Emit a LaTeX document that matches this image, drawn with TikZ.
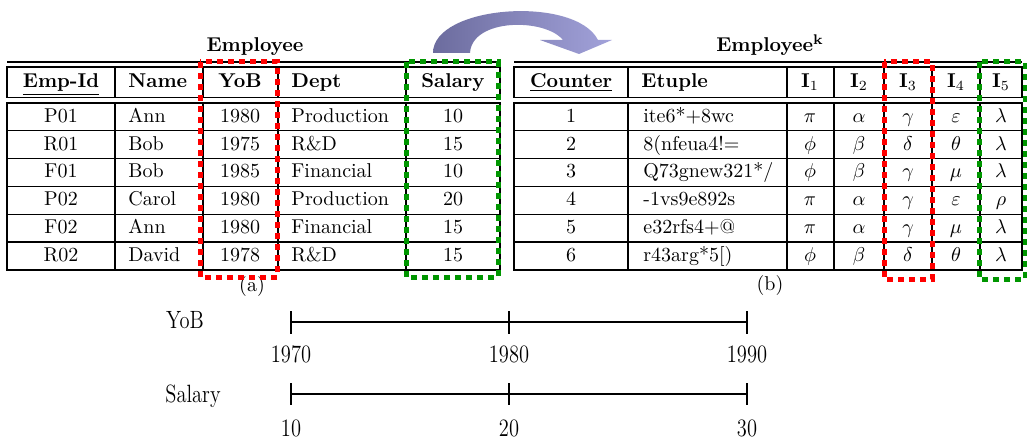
\documentclass[tikz,border=0pt]{standalone}
\usepackage{amsmath}
\usepackage{amssymb}
\usepackage{tikz}
\usetikzlibrary{positioning}
\definecolor{boxred}{RGB}{255,0,0}
\definecolor{boxgreen}{RGB}{0,150,0}
\definecolor{arrowdark}{RGB}{108,108,158}
\definecolor{arrowlight}{RGB}{162,162,218}
\tikzstyle{cell} = [text height=1.5ex, text depth=.25ex, inner sep=0pt]
\tikzstyle{cellw} = [cell, anchor=west]
\tikzstyle{head} = [cell, font=\bfseries]
\tikzstyle{headw} = [head, anchor=west]
\tikzstyle{rule} = [line width=0.6pt]
\tikzstyle{redbox} = [draw=boxred, line width=2.5pt, dash pattern=on 3pt off 2.5pt]
\tikzstyle{greenbox} = [draw=boxgreen, line width=2.5pt, dash pattern=on 3pt off 2.5pt]
\tikzstyle{axis} = [line width=0.8pt]
\tikzstyle{axislabel} = [font=\fontsize{12.5}{14}\selectfont, inner sep=0pt]
\newcommand{\cond}[1]{\scalebox{0.82}[1]{#1}}
\def\rh{27.8}

\begin{document}
\begin{tikzpicture}[x=0.5pt, y=-0.5pt]
\useasboundingbox (0,0) rectangle (1027,443);

%% table (a)
\node (titleA) [head] at (255,46) {Employee};
\draw [rule] (7,62) -- (500,62);
\draw [rule] (7,67) rectangle (500,97.5);
\draw [rule] (7,103) rectangle (500,270);
\foreach \x in {115,203,278,406} {
  \draw [rule] (\x,67) -- (\x,97.5);
  \draw [rule] (\x,103) -- (\x,270);
}
\foreach \k in {1,...,5} \draw [rule] (7,{103+\k*\rh}) -- (500,{103+\k*\rh});

\node (hId) [head] at (61,82) {\underline{Emp-Id}};
\node (hName) [headw] at (128,82) {Name};
\node (hYob) [head] at (240,82) {YoB};
\node (hDept) [headw] at (291,82) {Dept};
\node (hSal) [head] at (453,82) {Salary};

\foreach \i/\id/\nm/\yob/\dept/\sal in {1/P01/Ann/1980/Production/10,
    2/R01/Bob/1975/R\&D/15, 3/F01/Bob/1985/Financial/10,
    4/P02/Carol/1980/Production/20, 5/F02/Ann/1980/Financial/15,
    6/R02/David/1978/R\&D/15} {
  \node (id\i) [cell] at (61,{103+(\i-0.5)*\rh}) {\id};
  \node (nm\i) [cellw] at (128,{103+(\i-0.5)*\rh}) {\nm};
  \node (yob\i) [cell] at (240,{103+(\i-0.5)*\rh}) {\yob};
  \node (dept\i) [cellw] at (291,{103+(\i-0.5)*\rh}) {\dept};
  \node (sal\i) [cell] at (453,{103+(\i-0.5)*\rh}) {\sal};
}
\node (capA) at (252,287) {(a)};

%% table (b)
\node (titleB) [head] at (770,46) {Employee\textsuperscript{k}};
\draw [rule] (514,62) -- (1022,62);
\draw [rule] (514,67) rectangle (1022,97.5);
\draw [rule] (514,103) rectangle (1022,270);
\foreach \x in {628,787,834,884,932,980} {
  \draw [rule] (\x,67) -- (\x,97.5);
  \draw [rule] (\x,103) -- (\x,270);
}
\foreach \k in {1,...,5} \draw [rule] (514,{103+\k*\rh}) -- (1022,{103+\k*\rh});

\node (hCnt) [head] at (571,82) {\underline{Counter}};
\node (hEt) [headw] at (641,82) {Etuple};
\foreach \j/\x in {1/810,2/859,3/908,4/956,5/1001}
  \node (hI\j) [cell] at (\x,82) {$\mathbf{I}_{\j}$};

\foreach \i/\et/\a/\b/\c/\d/\e in {1/{ite6*+8wc}/\pi/\alpha/\gamma/\varepsilon/\lambda,
    2/{8(nfeua4!=}/\phi/\beta/\delta/\theta/\lambda,
    3/{Q73gnew321*/}/\phi/\beta/\gamma/\mu/\lambda,
    4/{-1vs9e892s}/\pi/\alpha/\gamma/\varepsilon/\rho,
    5/{e32rfs4+@}/\pi/\alpha/\gamma/\mu/\lambda,
    6/{r43arg*5[)}/\phi/\beta/\delta/\theta/\lambda} {
  \node (cnt\i) [cell] at (571,{103+(\i-0.5)*\rh}) {\i};
  \node (et\i) [cellw] at (643,{103+(\i-0.5)*\rh}) {\et};
  \node (ia\i) [cell] at (810,{103+(\i-0.5)*\rh}) {$\a$};
  \node (ib\i) [cell] at (859,{103+(\i-0.5)*\rh}) {$\b$};
  \node (ic\i) [cell] at (908,{103+(\i-0.5)*\rh}) {$\c$};
  \node (id\i) [cell] at (956,{103+(\i-0.5)*\rh}) {$\d$};
  \node (ie\i) [cell] at (1001,{103+(\i-0.5)*\rh}) {$\e$};
}
\node (capB) at (770,285) {(b)};

%% dotted frames
\draw [redbox] (200,62) rectangle (277,277);
\draw [greenbox] (406,62) rectangle (498,277);
\draw [redbox] (884,62) rectangle (932,279);
\draw [greenbox] (979,62) rectangle (1025,279);

%% curved arrow
\shade [left color=arrowdark, right color=arrowlight]
  (433,53) .. controls (433,5) and (575,-5) .. (598,40) -- (612,40) -- (579,54)
  -- (540,40) -- (563,40) .. controls (545,18) and (472,18) .. (470,53) -- cycle;

%% value scales
\node (lYob) [axislabel] at (185,320) {\cond{YoB}};
\coordinate (ya) at (291,322);
\coordinate (yb) at (747,322);
\draw [axis] (ya) -- (yb);
\foreach \v/\x in {1970/291,1980/509,1990/747} {
  \draw [axis] (\x,311) -- (\x,334);
  \node (y\v) [axislabel] at (\x,354) {\cond{\v}};
}

\node (lSal) [axislabel] at (193,396) {\cond{Salary}};
\coordinate (sa) at (291,394);
\coordinate (sb) at (747,394);
\draw [axis] (sa) -- (sb);
\foreach \v/\x in {10/291,20/509,30/747} {
  \draw [axis] (\x,383) -- (\x,405);
  \node (s\v) [axislabel] at (\x,428) {\cond{\v}};
}
\end{tikzpicture}
\end{document}
